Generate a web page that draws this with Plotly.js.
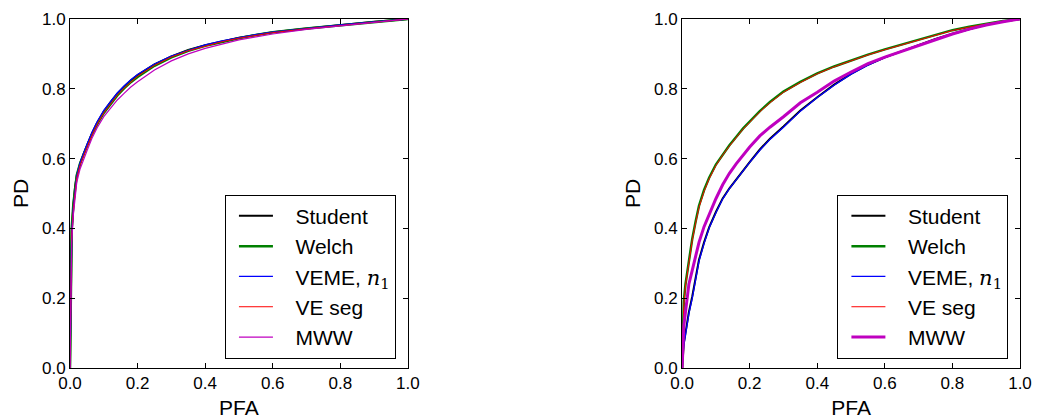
<!DOCTYPE html>
<html>
<head>
<meta charset="utf-8">
<script src="https://cdn.plot.ly/plotly-3.0.1.min.js"></script>
<style>html,body{margin:0;padding:0;background:#fff;}</style>
</head>
<body>
<div id="chart" style="width:1039px;height:419px;"></div>
<script>
// ---- Data ----
var gap = "\u00a0\u00a0\u00a0";
var seriesNames = ["Student", "Welch", "VEME, <span style=\"font-family:'DejaVu Serif'\"><i>n</i><sub>1</sub></span>", "VE seg", "MWW"];
var seriesColors = ["#000000", "#008000", "#0000ff", "#ff0000", "#bf00bf"];

// Left panel
var pfaLeft = [0, 0.002, 0.005, 0.01, 0.015, 0.02, 0.03, 0.04, 0.05, 0.065, 0.08, 0.1, 0.12, 0.14, 0.16, 0.18, 0.2, 0.25, 0.3, 0.35, 0.4, 0.45, 0.5, 0.55, 0.6, 0.7, 0.8, 0.9, 1.0];
var pdLeftStudent = [0, 0.25, 0.39, 0.465, 0.52, 0.55, 0.586, 0.613, 0.637, 0.672, 0.702, 0.735, 0.762, 0.786, 0.806, 0.824, 0.839, 0.87, 0.893, 0.911, 0.925, 0.936, 0.946, 0.954, 0.962, 0.973, 0.983, 0.992, 1.0];
var pdLeftWelch   = [0, 0.26, 0.40, 0.47, 0.522, 0.552, 0.587, 0.613, 0.635, 0.669, 0.698, 0.731, 0.757, 0.781, 0.801, 0.819, 0.834, 0.866, 0.89, 0.909, 0.923, 0.935, 0.945, 0.954, 0.962, 0.973, 0.982, 0.991, 1.0];
var pdLeftVEME    = [0, 0.24, 0.385, 0.462, 0.518, 0.55, 0.588, 0.615, 0.64, 0.675, 0.705, 0.738, 0.764, 0.788, 0.808, 0.826, 0.841, 0.871, 0.894, 0.911, 0.926, 0.937, 0.947, 0.955, 0.962, 0.973, 0.983, 0.992, 1.0];
var pdLeftVEseg   = [0, 0.24, 0.38, 0.455, 0.512, 0.544, 0.582, 0.609, 0.632, 0.667, 0.698, 0.731, 0.758, 0.782, 0.802, 0.82, 0.836, 0.867, 0.891, 0.909, 0.923, 0.935, 0.945, 0.953, 0.961, 0.972, 0.982, 0.991, 1.0];
var pdLeftMWW     = [0, 0.22, 0.36, 0.44, 0.498, 0.532, 0.571, 0.598, 0.622, 0.658, 0.688, 0.72, 0.745, 0.768, 0.787, 0.805, 0.82, 0.854, 0.88, 0.9, 0.916, 0.929, 0.94, 0.949, 0.957, 0.97, 0.98, 0.99, 1.0];

// Right panel
var pfaRight = [0, 0.002, 0.005, 0.01, 0.02, 0.03, 0.04, 0.05, 0.065, 0.08, 0.1, 0.12, 0.14, 0.16, 0.18, 0.2, 0.23, 0.26, 0.3, 0.35, 0.4, 0.45, 0.5, 0.55, 0.6, 0.65, 0.7, 0.75, 0.8, 0.85, 0.9, 0.95, 1.0];
var pdRightStudent = [0, 0.04, 0.07, 0.1, 0.16, 0.205, 0.26, 0.31, 0.36, 0.403, 0.447, 0.486, 0.515, 0.541, 0.566, 0.59, 0.626, 0.657, 0.692, 0.738, 0.776, 0.812, 0.843, 0.869, 0.89, 0.908, 0.925, 0.943, 0.958, 0.972, 0.984, 0.993, 1.0];
var pdRightWelch   = [0, 0.13, 0.19, 0.24, 0.31, 0.37, 0.42, 0.465, 0.51, 0.545, 0.583, 0.612, 0.638, 0.662, 0.686, 0.706, 0.736, 0.762, 0.792, 0.82, 0.844, 0.864, 0.882, 0.898, 0.913, 0.927, 0.941, 0.956, 0.968, 0.978, 0.987, 0.994, 1.0];
var pdRightVEME    = [0, 0.035, 0.065, 0.095, 0.155, 0.2, 0.255, 0.306, 0.357, 0.401, 0.445, 0.484, 0.514, 0.54, 0.565, 0.589, 0.624, 0.655, 0.69, 0.736, 0.775, 0.81, 0.842, 0.868, 0.889, 0.907, 0.924, 0.942, 0.957, 0.971, 0.983, 0.993, 1.0];
var pdRightVEseg   = [0, 0.12, 0.18, 0.235, 0.305, 0.365, 0.415, 0.46, 0.506, 0.542, 0.58, 0.61, 0.636, 0.66, 0.684, 0.704, 0.734, 0.76, 0.79, 0.818, 0.843, 0.863, 0.881, 0.897, 0.912, 0.926, 0.94, 0.955, 0.967, 0.977, 0.986, 0.994, 1.0];
var pdRightMWW     = [0, 0.08, 0.12, 0.16, 0.24, 0.28, 0.32, 0.36, 0.405, 0.44, 0.485, 0.525, 0.558, 0.585, 0.61, 0.633, 0.665, 0.69, 0.72, 0.76, 0.79, 0.822, 0.848, 0.872, 0.891, 0.908, 0.925, 0.942, 0.957, 0.971, 0.983, 0.992, 1.0];

var tickVals = [0, 0.2, 0.4, 0.6, 0.8, 1.0];
var tickText = ["0.0", "0.2", "0.4", "0.6", "0.8", "1.0"];

var leftY = [pdLeftStudent, pdLeftWelch, pdLeftVEME, pdLeftVEseg, pdLeftMWW];
var rightY = [pdRightStudent, pdRightWelch, pdRightVEME, pdRightVEseg, pdRightMWW];
var leftWidths = [2, 2.5, 1.3, 1, 1.2];
var rightWidths = [2, 2.5, 1.3, 1, 3];

var traces = [];
for (var i = 0; i < 5; i++) {
  traces.push({
    x: pfaLeft, y: leftY[i], type: 'scatter', mode: 'lines',
    name: gap + seriesNames[i], legend: 'legend', legendgroup: 'L' + i,
    line: {color: seriesColors[i], width: leftWidths[i]},
    xaxis: 'x', yaxis: 'y', hoverinfo: 'skip'
  });
}
for (var j = 0; j < 5; j++) {
  traces.push({
    x: pfaRight, y: rightY[j], type: 'scatter', mode: 'lines',
    name: gap + seriesNames[j], legend: 'legend2', legendgroup: 'R' + j,
    line: {color: seriesColors[j], width: rightWidths[j]},
    xaxis: 'x2', yaxis: 'y2', hoverinfo: 'skip'
  });
}

var font = 'Liberation Sans, Arial, sans-serif';
function axis(domain, anchor, title, standoff) {
  return {
    domain: domain, anchor: anchor, range: [0, 1],
    tickvals: tickVals, ticktext: tickText,
    ticks: 'inside', ticklen: 5, tickwidth: 1, tickcolor: '#000',
    showline: true, linecolor: '#000', linewidth: 1, mirror: 'allticks',
    showgrid: false, zeroline: false,
    tickfont: {family: font, size: 17, color: '#000'},
    title: {text: title, font: {family: font, size: 21, color: '#000'}, standoff: standoff}
  };
}
var legendBase = {
  xanchor: 'left', yanchor: 'top',
  bgcolor: '#fff', bordercolor: '#000', borderwidth: 1,
  font: {family: font, size: 21, color: '#000'},
  traceorder: 'grouped', tracegroupgap: 0, itemwidth: 34, indentation: 8
};
var layout = {
  width: 1039, height: 419,
  margin: {l: 70, r: 18.7, t: 19.3, b: 50.7},
  paper_bgcolor: '#fff', plot_bgcolor: '#fff',
  showlegend: true,
  xaxis: axis([0, 0.35568], 'y', 'PFA', 12),
  yaxis: axis([0, 1], 'x', 'PD', 7),
  xaxis2: axis([0.64432, 1], 'y2', 'PFA', 12),
  yaxis2: axis([0, 1], 'x2', 'PD', 7),
  legend: Object.assign({}, legendBase, {x: 0.1631, y: 0.4966}),
  legend2: Object.assign({}, legendBase, {x: 0.8078, y: 0.4966})
};
Plotly.newPlot('chart', traces, layout, {staticPlot: true, displayModeBar: false});
</script>
</body>
</html>
